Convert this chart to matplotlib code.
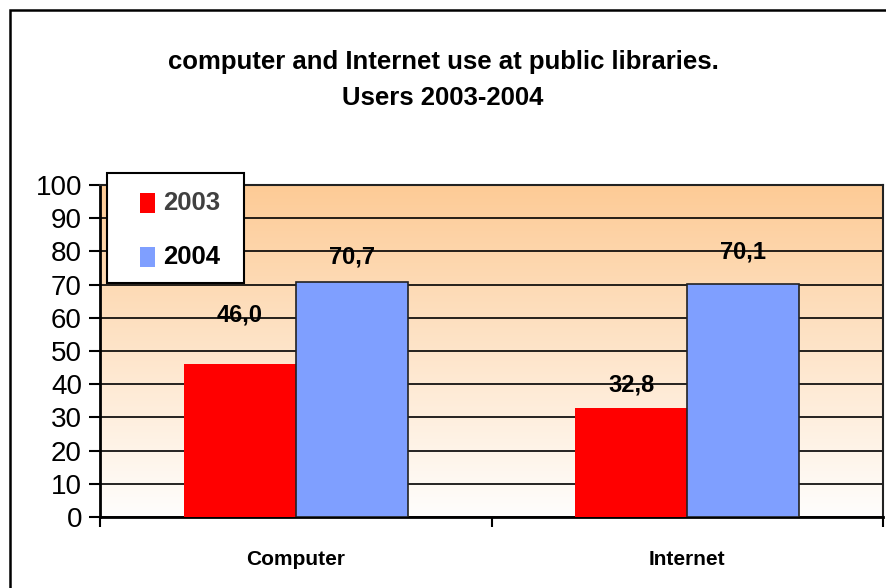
import numpy as np
import matplotlib
matplotlib.use("Agg")
import matplotlib.pyplot as plt
from matplotlib.colors import LinearSegmentedColormap
from matplotlib.patches import Rectangle

categories = ["Computer", "Internet"]
years = ["2003", "2004"]
values_2003 = [46.0, 32.8]
values_2004 = [70.7, 70.1]
y_ticks = [0, 10, 20, 30, 40, 50, 60, 70, 80, 90, 100]

plt.rcParams["font.family"] = ["Liberation Sans", "DejaVu Sans"]

fig = plt.figure(figsize=(8.86, 5.88), dpi=100)
fig.patch.set_facecolor("white")

# outer chart frame (runs off the right and bottom edges)
fig.patches.append(Rectangle((9.5 / 886, -0.05), 1.2, 1 - 9.5 / 588 + 0.05,
                             transform=fig.transFigure, fill=False,
                             edgecolor="black", linewidth=1.8, zorder=0))

ax = fig.add_axes([100 / 886, 71 / 588, 783 / 886, 332 / 588])

# vertical gradient background: peach at top fading to white
cmap = LinearSegmentedColormap.from_list("peach", ["#FFFEFD", "#FDCB96"])
grad = np.linspace(0, 1, 256).reshape(-1, 1)
ax.imshow(grad, cmap=cmap, aspect="auto", extent=[0, 2, 0, 100],
          origin="lower", zorder=0)

x = np.arange(len(categories)) + 0.5
w = 0.286
c2003, c2004 = "#FF0000", "#7F9FFF"
ax.bar(x - w / 2, values_2003, width=w, color=c2003, edgecolor="none",
       zorder=3)
ax.bar(x + w / 2, values_2004, width=w, color=c2004, edgecolor="#222222",
       linewidth=1.2, zorder=3)

ax.set_xlim(0, 2)
ax.set_ylim(0, 100)
ax.set_yticks(y_ticks)
ax.set_yticklabels([str(t) for t in y_ticks], fontsize=20)
ax.yaxis.grid(True, color="black", linewidth=1.2, zorder=1)
ax.set_axisbelow(True)

ax.set_xticks([0, 1, 2])
ax.set_xticklabels([])
ax.set_xticks(x, minor=True)
ax.set_xticklabels(categories, minor=True, fontsize=15, fontweight="bold")
ax.tick_params(axis="x", which="minor", length=0, pad=24)
ax.tick_params(axis="x", which="major", length=7, width=1.5, direction="out")
ax.tick_params(axis="y", length=8, width=1.5, direction="out", pad=5)

for side in ["left", "bottom"]:
    ax.spines[side].set_linewidth(2)
for side in ["top", "right"]:
    ax.spines[side].set_linewidth(1.5)
    ax.spines[side].set_color("#222222")

# value labels
label_offsets_2003 = [49, 23]
label_offsets_2004 = [25, 32]
for xs, vals, offs in [(x - w / 2, values_2003, label_offsets_2003),
                       (x + w / 2, values_2004, label_offsets_2004)]:
    for xi, v, off in zip(xs, vals, offs):
        ax.annotate(f"{v:.1f}".replace(".", ","), (xi, v), xytext=(0, off),
                    textcoords="offset pixels", ha="center", va="center",
                    fontsize=17, fontweight="bold", zorder=5)

fig.text(443 / 886, 1 - 62 / 588, "computer and Internet use at public libraries.",
         ha="center", va="center", fontsize=18.5, fontweight="bold")
fig.text(443 / 886, 1 - 98 / 588, "Users 2003-2004",
         ha="center", va="center", fontsize=18.5, fontweight="bold")

# legend box drawn in figure pixel coordinates
def fx(px):
    return px / 886

def fy(py):
    return 1 - py / 588

fig.patches.append(Rectangle((fx(107), fy(283)), fx(244) - fx(107),
                             fy(173) - fy(283), transform=fig.transFigure,
                             facecolor="white", edgecolor="black",
                             linewidth=1.5, zorder=10))
legend_rows = [(years[0], c2003, "#404040", 203),
               (years[1], c2004, "black", 257)]
for label, col, tcol, cy in legend_rows:
    fig.patches.append(Rectangle((fx(140), fy(cy + 10)), fx(155) - fx(140),
                                 fy(cy - 10) - fy(cy + 10),
                                 transform=fig.transFigure, facecolor=col,
                                 edgecolor="none", zorder=11))
    fig.text(fx(163), fy(cy), label, ha="left", va="center", fontsize=18.5,
             fontweight="bold", color=tcol, zorder=12)

fig.savefig("out.png", dpi=100)
